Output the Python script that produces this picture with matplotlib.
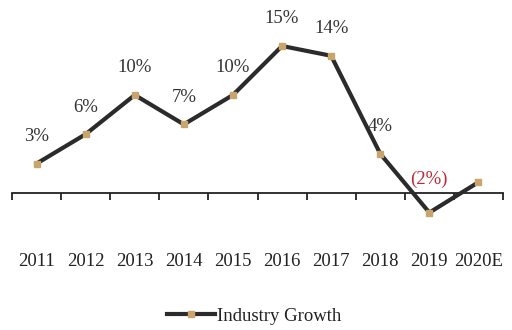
import matplotlib.pyplot as plt

# Industry growth by year (%), 2020 is an estimate
years = ['2011', '2012', '2013', '2014', '2015', '2016', '2017', '2018', '2019', '2020E']
growth = [3, 6, 10, 7, 10, 15, 14, 4, -2, 1.1]
labels = ['3%', '6%', '10%', '7%', '10%', '15%', '14%', '4%', '(2%)', '']

plt.rcParams['font.family'] = ['Liberation Serif', 'DejaVu Serif']
plt.rcParams['font.size'] = 13.5

fig = plt.figure(figsize=(5.12, 3.30), dpi=100)
ax = fig.add_axes([12 / 512, 0.2964, 491 / 512, 0.6533])

x = list(range(len(years)))
ax.plot(x, growth, color='#2b2b2b', lw=3, marker='s', ms=4,
        mfc='#c9a46c', mec='#c9a46c', solid_joinstyle='miter',
        label='Industry Growth', zorder=3)

for xi, v, lab in zip(x, growth, labels):
    if not lab:
        continue
    neg = v < 0
    ax.annotate(lab, (xi, v), xytext=(0, 24 if neg else 19.5),
                textcoords='offset points', ha='center', va='center',
                color='#c0283a' if neg else '#333333')

ax.set_xlim(-0.5, len(years) - 0.5)
ax.set_ylim(-4, 18)

for s in ['top', 'right', 'left']:
    ax.spines[s].set_visible(False)
ax.spines['bottom'].set_position(('data', 0))
ax.spines['bottom'].set_color('#222222')
ax.spines['bottom'].set_linewidth(1.3)
ax.set_yticks([])

ax.set_xticks(x)
ax.set_xticklabels(years, color='#222222')
ax.set_xticks([i - 0.5 for i in range(len(years) + 1)], minor=True)
ax.tick_params(axis='x', which='major', length=0, pad=43)
ax.tick_params(axis='x', which='minor', direction='out', length=5,
               width=1.3, color='#222222')

fig.legend(loc='lower center', bbox_to_anchor=(0.496, -0.035), frameon=False,
           handlelength=2.6, handletextpad=0.1, labelcolor='#222222')

fig.savefig('out.png', dpi=100)
